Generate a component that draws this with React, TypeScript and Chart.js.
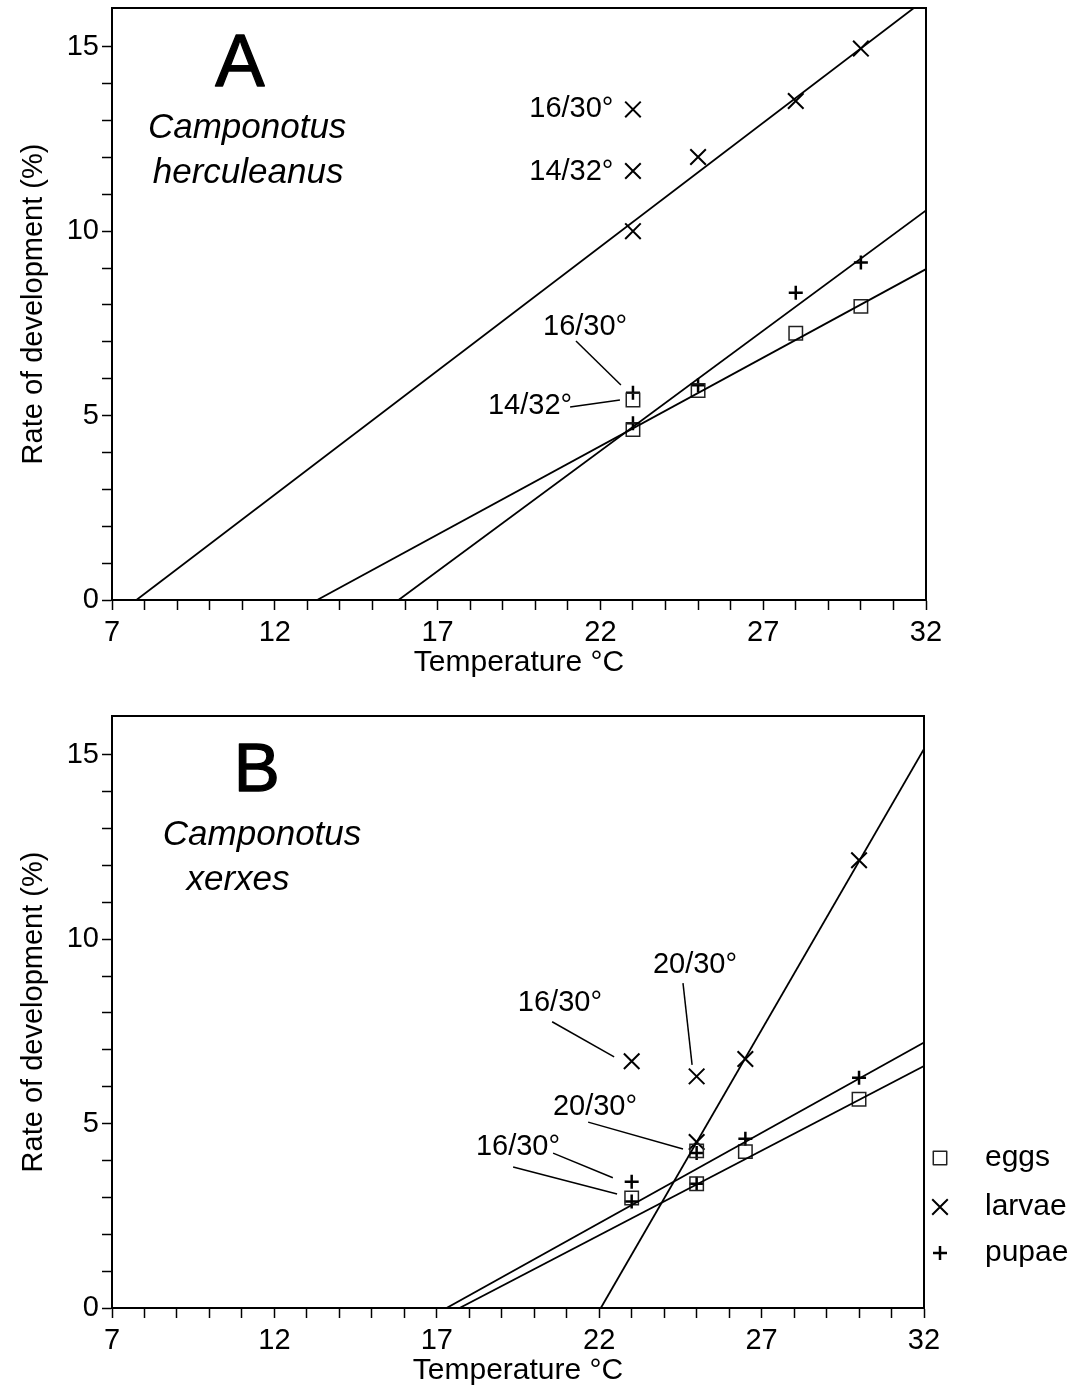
import React, { useEffect, useRef } from 'react';
import { Chart, registerables } from 'chart.js';
Chart.register(...registerables);

const FONT = '"Liberation Sans", Arial, Helvetica, sans-serif';

// ---------- axes ----------
const xTickValues = [7, 8, 9, 10, 11, 12, 13, 14, 15, 16, 17, 18, 19, 20, 21, 22, 23, 24, 25, 26, 27, 28, 29, 30, 31, 32];
const xLabeledTicks = [7, 12, 17, 22, 27, 32];
const yTickValues = [0, 1, 2, 3, 4, 5, 6, 7, 8, 9, 10, 11, 12, 13, 14, 15];
const yLabeledTicks = [0, 5, 10, 15];
const xTitle = 'Temperature °C';
const yTitle = 'Rate of development (%)';

// ---------- Panel A: Camponotus herculeanus ----------
const eggsA_x = [23, 23, 25, 28, 30];
const eggsA_y = [5.42, 4.62, 5.68, 7.23, 7.96];
const larvaeA_x = [23, 23, 23, 25, 28, 30];
const larvaeA_y = [13.3, 11.63, 10.0, 12.01, 13.53, 14.95];
const pupaeA_x = [23, 23, 25, 28, 30];
const pupaeA_y = [5.62, 4.79, 5.82, 8.33, 9.15];
// regression lines: [x-intercept, y at x=32]
const eggsFitA_x = [13.3, 32];
const eggsFitA_y = [0, 8.97];
const larvaeFitA_x = [7.75, 32];
const larvaeFitA_y = [0, 16.3];
const pupaeFitA_x = [15.8, 32];
const pupaeFitA_y = [0, 10.56];
// annotation labels [text, x, y, align]
const labelsA: [string, number, number, CanvasTextAlign][] = [
  ['16/30°', 22.4, 13.3, 'right'],
  ['14/32°', 22.4, 11.6, 'right'],
  ['16/30°', 21.53, 7.4, 'center'],
  ['14/32°', 19.84, 5.26, 'center'],
];
// leader lines [x1, y1, x2, y2]
const leadersA = [
  [21.25, 7.02, 22.63, 5.83],
  [21.07, 5.23, 22.6, 5.42],
];
const letterA: [string, number, number, number] = ['A', 10.93, 14.5, 74];
const speciesA: [string, number, number][] = [
  ['Camponotus', 11.15, 12.8],
  ['herculeanus', 11.18, 11.58],
];

// ---------- Panel B: Camponotus xerxes ----------
const eggsB_x = [23, 25, 25, 26.5, 30];
const eggsB_y = [2.98, 4.26, 3.37, 4.24, 5.66];
const larvaeB_x = [23, 25, 25, 26.5, 30];
const larvaeB_y = [6.69, 6.28, 4.5, 6.75, 12.14];
const pupaeB_x = [23, 23, 25, 25, 26.5, 30];
const pupaeB_y = [3.42, 2.89, 4.2, 3.37, 4.59, 6.24];
const eggsFitB_x = [17.7, 32];
const eggsFitB_y = [0, 6.56];
const larvaeFitB_x = [22.05, 32];
const larvaeFitB_y = [0, 15.16];
const pupaeFitB_x = [17.3, 32];
const pupaeFitB_y = [0, 7.2];
const labelsB: [string, number, number, CanvasTextAlign][] = [
  ['20/30°', 24.95, 9.3, 'center'],
  ['16/30°', 20.79, 8.27, 'center'],
  ['20/30°', 21.87, 5.45, 'center'],
  ['16/30°', 19.5, 4.37, 'center'],
];
const leadersB = [
  [24.58, 8.81, 24.86, 6.59],
  [20.55, 7.76, 22.46, 6.81],
  [21.66, 5.04, 24.58, 4.31],
  [20.58, 4.2, 22.42, 3.53],
  [19.35, 3.82, 22.55, 3.09],
];
const letterB: [string, number, number, number] = ['B', 11.46, 14.54, 69];
const speciesB: [string, number, number][] = [
  ['Camponotus', 11.62, 12.83],
  ['xerxes', 10.88, 11.61],
];

// legend
const legendNames = ['eggs', 'larvae', 'pupae'];
const legendStyles = ['rect', 'crossRot', 'cross'];

const zip = (xs: number[], ys: number[]) => xs.map((x, i) => ({ x, y: ys[i] }));

const pointStyleDefs: Record<string, any> = {
  rect: { pointStyle: 'rect', pointRadius: 9.5, pointBorderWidth: 1.5, pointBorderColor: '#222' },
  crossRot: { pointStyle: 'crossRot', pointRadius: 11, pointBorderWidth: 2, pointBorderColor: '#000' },
  cross: { pointStyle: 'cross', pointRadius: 7, pointBorderWidth: 2.5, pointBorderColor: '#000' },
};

function pointDataset(label: string, xs: number[], ys: number[], style: string) {
  const s = pointStyleDefs[style];
  return {
    type: 'scatter' as const,
    label,
    data: zip(xs, ys),
    showLine: false,
    pointStyle: s.pointStyle,
    pointRadius: s.pointRadius,
    pointBorderWidth: s.pointBorderWidth,
    pointBorderColor: s.pointBorderColor,
    pointBackgroundColor: 'rgba(0,0,0,0)',
    pointHoverRadius: s.pointRadius,
  };
}

function lineDataset(label: string, xs: number[], ys: number[]) {
  return {
    type: 'line' as const,
    label,
    data: zip(xs, ys),
    borderColor: '#000',
    borderWidth: 1.8,
    pointRadius: 0,
    fill: false,
    tension: 0,
  };
}

interface PanelDef {
  datasets: any[];
  labels: [string, number, number, CanvasTextAlign][];
  leaders: number[][];
  letter: [string, number, number, number];
  species: [string, number, number][];
  legend: boolean;
  height: number;
  top: number;
  padTop: number;
  padRight: number;
  xAxisH: number;
  xTitlePadBottom: number;
}

const panels: PanelDef[] = [
  {
    datasets: [
      lineDataset('larvae fit', larvaeFitA_x, larvaeFitA_y),
      lineDataset('pupae fit', pupaeFitA_x, pupaeFitA_y),
      lineDataset('eggs fit', eggsFitA_x, eggsFitA_y),
      pointDataset('eggs', eggsA_x, eggsA_y, 'rect'),
      pointDataset('larvae', larvaeA_x, larvaeA_y, 'crossRot'),
      pointDataset('pupae', pupaeA_x, pupaeA_y, 'cross'),
    ],
    labels: labelsA,
    leaders: leadersA,
    letter: letterA,
    species: speciesA,
    legend: false,
    height: 696,
    top: 0,
    padTop: 8,
    padRight: 152,
    xAxisH: 96,
    xTitlePadBottom: 15,
  },
  {
    datasets: [
      lineDataset('larvae fit', larvaeFitB_x, larvaeFitB_y),
      lineDataset('pupae fit', pupaeFitB_x, pupaeFitB_y),
      lineDataset('eggs fit', eggsFitB_x, eggsFitB_y),
      pointDataset('eggs', eggsB_x, eggsB_y, 'rect'),
      pointDataset('larvae', larvaeB_x, larvaeB_y, 'crossRot'),
      pointDataset('pupae', pupaeB_x, pupaeB_y, 'cross'),
    ],
    labels: labelsB,
    leaders: leadersB,
    letter: letterB,
    species: speciesB,
    legend: true,
    height: 696,
    top: 696,
    padTop: 20,
    padRight: 154,
    xAxisH: 84,
    xTitlePadBottom: 3,
  },
];

function drawSymbol(ctx: CanvasRenderingContext2D, style: string, x: number, y: number) {
  const s = pointStyleDefs[style];
  ctx.save();
  ctx.strokeStyle = s.pointBorderColor;
  ctx.lineWidth = s.pointBorderWidth;
  ctx.beginPath();
  const r = s.pointRadius;
  if (style === 'rect') {
    const h = r * Math.SQRT1_2;
    ctx.rect(x - h, y - h, 2 * h, 2 * h);
  } else if (style === 'crossRot') {
    const h = r * Math.SQRT1_2;
    ctx.moveTo(x - h, y - h); ctx.lineTo(x + h, y + h);
    ctx.moveTo(x - h, y + h); ctx.lineTo(x + h, y - h);
  } else {
    ctx.moveTo(x - r, y); ctx.lineTo(x + r, y);
    ctx.moveTo(x, y - r); ctx.lineTo(x, y + r);
  }
  ctx.stroke();
  ctx.restore();
}

function Panel({ def }: { def: PanelDef }) {
  const ref = useRef<HTMLCanvasElement>(null);
  useEffect(() => {
    const annot = {
      id: 'annot' + def.top,
      afterDatasetsDraw(chart: any) {
        const { ctx, chartArea, scales } = chart;
        const xs = scales.x, ys = scales.y;
        ctx.save();
        // frame top & right
        ctx.strokeStyle = '#000';
        ctx.lineWidth = 2;
        ctx.beginPath();
        ctx.moveTo(chartArea.left, chartArea.top);
        ctx.lineTo(chartArea.right, chartArea.top);
        ctx.lineTo(chartArea.right, chartArea.bottom);
        ctx.stroke();
        // leaders
        ctx.lineWidth = 1.5;
        for (const [x1, y1, x2, y2] of def.leaders) {
          ctx.beginPath();
          ctx.moveTo(xs.getPixelForValue(x1), ys.getPixelForValue(y1));
          ctx.lineTo(xs.getPixelForValue(x2), ys.getPixelForValue(y2));
          ctx.stroke();
        }
        ctx.fillStyle = '#000';
        ctx.textBaseline = 'middle';
        ctx.font = `29px ${FONT}`;
        for (const [t, x, y, a] of def.labels) {
          ctx.textAlign = a;
          ctx.fillText(t, xs.getPixelForValue(x), ys.getPixelForValue(y));
        }
        ctx.textAlign = 'center';
        const [L, lx, ly, ls] = def.letter;
        ctx.font = `${ls}px ${FONT}`;
        ctx.lineWidth = 1.3;
        ctx.lineJoin = 'round';
        ctx.fillText(L, xs.getPixelForValue(lx), ys.getPixelForValue(ly));
        ctx.strokeText(L, xs.getPixelForValue(lx), ys.getPixelForValue(ly));
        ctx.font = `italic 35px ${FONT}`;
        for (const [t, x, y] of def.species) {
          ctx.fillText(t, xs.getPixelForValue(x), ys.getPixelForValue(y));
        }
        if (def.legend) {
          ctx.font = `30px ${FONT}`;
          ctx.textAlign = 'left';
          const rowOffsets = [-150, -101, -55];
          legendNames.forEach((n, i) => {
            const y = chartArea.bottom + rowOffsets[i];
            drawSymbol(ctx, legendStyles[i], chartArea.right + 16, y);
            ctx.fillText(n, chartArea.right + 61, y);
          });
        }
        ctx.restore();
      },
    };

    const chart = new Chart(ref.current as HTMLCanvasElement, {
      type: 'scatter',
      data: { datasets: def.datasets },
      options: {
        responsive: false,
        animation: false,
        devicePixelRatio: 1,
        layout: { autoPadding: false, padding: { top: def.padTop, right: def.padRight, left: 0, bottom: 0 } },
        plugins: { legend: { display: false }, tooltip: { enabled: false } },
        scales: {
          x: {
            type: 'linear',
            min: 7,
            max: 32,
            afterBuildTicks: (scale: any) => {
              scale.ticks = xTickValues.map((v) => ({ value: v }));
            },
            afterFit: (scale: any) => {
              scale.height = def.xAxisH;
              scale.paddingLeft = 0; scale.paddingRight = 0;
              scale.paddingTop = 0; scale.paddingBottom = 0;
            },
            ticks: {
              autoSkip: false,
              maxRotation: 0,
              minRotation: 0,
              padding: 6,
              color: '#000',
              font: { family: FONT, size: 29 },
              callback: (v: any) => (xLabeledTicks.includes(Number(v)) ? String(v) : ''),
            },
            grid: { display: true, drawOnChartArea: false, drawTicks: true, tickLength: 10, tickColor: '#000', tickWidth: 1.5 },
            border: { display: true, color: '#000', width: 2 },
            title: {
              display: true,
              text: xTitle,
              color: '#000',
              font: { family: FONT, size: 30 },
              padding: { top: 0, bottom: def.xTitlePadBottom },
            },
          },
          y: {
            type: 'linear',
            min: 0,
            max: 16.05,
            afterBuildTicks: (scale: any) => {
              scale.ticks = yTickValues.map((v) => ({ value: v }));
            },
            afterFit: (scale: any) => {
              scale.width = 112;
              scale.paddingLeft = 0; scale.paddingRight = 0;
              scale.paddingTop = 0; scale.paddingBottom = 0;
            },
            ticks: {
              autoSkip: false,
              padding: 3,
              color: '#000',
              font: { family: FONT, size: 29 },
              callback: (v: any) => (yLabeledTicks.includes(Number(v)) ? String(v) : ''),
            },
            grid: { display: true, drawOnChartArea: false, drawTicks: true, tickLength: 10, tickColor: '#000', tickWidth: 1.5 },
            border: { display: true, color: '#000', width: 2 },
            title: {
              display: true,
              text: yTitle,
              color: '#000',
              font: { family: FONT, size: 29 },
              padding: { top: 17, bottom: 0 },
            },
          },
        },
      } as any,
      plugins: [annot],
    });
    return () => chart.destroy();
  }, []);
  return (
    <canvas
      ref={ref}
      width={1078}
      height={def.height}
      style={{ position: 'absolute', left: 0, top: def.top, width: 1078, height: def.height, display: 'block' }}
    />
  );
}

export default function App() {
  return (
    <div style={{ position: 'absolute', left: 0, top: 0, width: 1078, height: 1392, background: '#fff', overflow: 'hidden' }}>
      {panels.map((p, i) => (
        <Panel key={i} def={p} />
      ))}
    </div>
  );
}
